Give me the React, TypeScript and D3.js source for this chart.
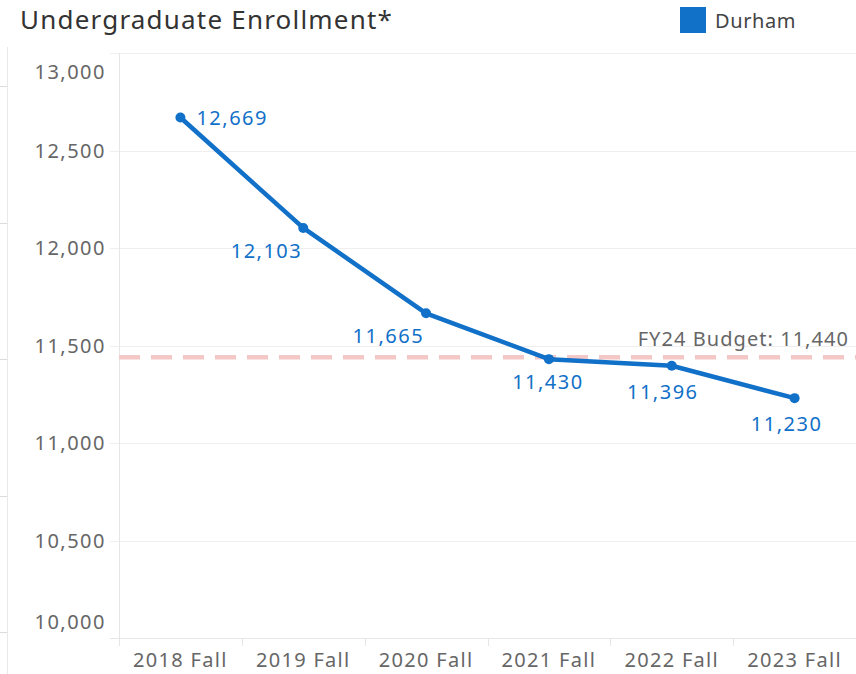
import React, { useEffect, useRef } from "react";
import * as d3 from "d3";

// data
const terms = ["2018 Fall", "2019 Fall", "2020 Fall", "2021 Fall", "2022 Fall", "2023 Fall"];
const enrollment = [12669, 12103, 11665, 11430, 11396, 11230];
const yTicks = [10000, 10500, 11000, 11500, 12000, 12500, 13000];
const budget = 11440;
const budgetLabel = "FY24 Budget: 11,440";
const seriesName = "Durham";
const title = "Undergraduate Enrollment*";

// where each value label sits relative to its point
const labelPlacement = [
  { anchor: "start", dx: 16, dy: 7 },
  { anchor: "end", dx: -1, dy: 30 },
  { anchor: "end", dx: -2, dy: 30 },
  { anchor: "middle", dx: -1, dy: 30 },
  { anchor: "middle", dx: -9, dy: 33 },
  { anchor: "middle", dx: -8, dy: 33 },
];

const W = 856;
const H = 674;
const BLUE = "#1170c8";
const FONT = "'Noto Sans', 'Open Sans', sans-serif";

const App = () => {
  const svgRef = useRef<SVGSVGElement>(null);

  useEffect(() => {
    const svg = d3.select(svgRef.current);
    svg.selectAll("*").remove();

    const left = 119;
    const right = W;
    const top = 53;
    const bottom = 638;

    const x = d3.scaleBand().domain(terms).range([left, right]);
    const y = d3.scaleLinear().domain([10000, 13000]).range([bottom, top]);

    // leftover frame pieces on the far left
    svg.append("line").attr("x1", 7.5).attr("x2", 7.5).attr("y1", 47).attr("y2", H)
      .attr("stroke", "#e8e8e8");
    d3.range(5).forEach((i) => {
      const yy = Math.round(86 + i * 136.5) + 0.5;
      svg.append("line").attr("x1", 0).attr("x2", 7).attr("y1", yy).attr("y2", yy)
        .attr("stroke", "#dcdcdc");
    });

    // title
    svg.append("text").attr("x", 20).attr("y", 29)
      .attr("font-family", FONT).attr("font-size", 26).attr("fill", "#333")
      .attr("letter-spacing", 1.2)
      .text(title);

    // legend
    svg.append("rect").attr("x", 680).attr("y", 7).attr("width", 26).attr("height", 26)
      .attr("fill", BLUE);
    svg.append("text").attr("x", 715).attr("y", 28)
      .attr("font-family", FONT).attr("font-size", 20).attr("fill", "#444")
      .attr("letter-spacing", 0.6)
      .text(seriesName);

    // gridlines
    svg.append("g").selectAll("line").data(yTicks).join("line")
      .attr("x1", 110).attr("x2", right)
      .attr("y1", (d) => Math.round(y(d)) + 0.5).attr("y2", (d) => Math.round(y(d)) + 0.5)
      .attr("stroke", (d) => (d === 10000 ? "#e6e6e6" : "#efefef"));

    // y axis line
    svg.append("line").attr("x1", left + 0.5).attr("x2", left + 0.5).attr("y1", top).attr("y2", bottom + 8)
      .attr("stroke", "#e6e6e6");

    // category separators under the axis
    svg.append("g").selectAll("line").data(terms.slice(1)).join("line")
      .attr("x1", (d) => Math.round(x(d)!) + 0.5).attr("x2", (d) => Math.round(x(d)!) + 0.5)
      .attr("y1", bottom).attr("y2", bottom + 8)
      .attr("stroke", "#e6e6e6");

    // y tick labels (end ones kept inside the pane)
    svg.append("g").selectAll("text").data(yTicks).join("text")
      .attr("x", 106)
      .attr("y", (d) => (d === 13000 ? y(d) + 19 : d === 10000 ? y(d) - 16 : y(d)))
      .attr("dy", "0.35em")
      .attr("text-anchor", "end")
      .attr("font-family", FONT).attr("font-size", 20).attr("fill", "#666")
      .attr("letter-spacing", 1.5)
      .text((d) => d3.format(",")(d));

    // x tick labels
    svg.append("g").selectAll("text").data(terms).join("text")
      .attr("x", (d) => x(d)! + x.bandwidth() / 2)
      .attr("y", 667)
      .attr("text-anchor", "middle")
      .attr("font-family", FONT).attr("font-size", 20).attr("fill", "#666")
      .attr("letter-spacing", 1.3)
      .text((d) => d);

    // budget reference line
    svg.append("line").attr("x1", left).attr("x2", right)
      .attr("y1", y(budget)).attr("y2", y(budget))
      .attr("stroke", "#f5c8c8").attr("stroke-width", 4.5)
      .attr("stroke-dasharray", "21 11");
    svg.append("text").attr("x", 849).attr("y", y(budget) - 11)
      .attr("text-anchor", "end")
      .attr("font-family", FONT).attr("font-size", 20).attr("fill", "#666")
      .attr("letter-spacing", 1.05)
      .text(budgetLabel);

    // series line
    const cx = (i: number) => x(terms[i])! + x.bandwidth() / 2;
    const line = d3.line<number>().x((d, i) => cx(i)).y((d) => y(d));
    svg.append("path").datum(enrollment).attr("d", line)
      .attr("fill", "none").attr("stroke", BLUE).attr("stroke-width", 4.5)
      .attr("stroke-linejoin", "round");

    svg.append("g").selectAll("circle").data(enrollment).join("circle")
      .attr("cx", (d, i) => cx(i)).attr("cy", (d) => y(d)).attr("r", 5)
      .attr("fill", BLUE);

    svg.append("g").selectAll("text").data(enrollment).join("text")
      .attr("x", (d, i) => cx(i) + labelPlacement[i].dx)
      .attr("y", (d, i) => y(d) + labelPlacement[i].dy)
      .attr("text-anchor", (d, i) => labelPlacement[i].anchor)
      .attr("font-family", FONT).attr("font-size", 20).attr("fill", BLUE)
      .attr("letter-spacing", 1.5)
      .text((d) => d3.format(",")(d));
  }, []);

  return (
    <div style={{ position: "absolute", left: 0, top: 0 }}>
      <svg ref={svgRef} width={W} height={H} style={{ display: "block", background: "#fff" }}></svg>
    </div>
  );
};

export default App;
